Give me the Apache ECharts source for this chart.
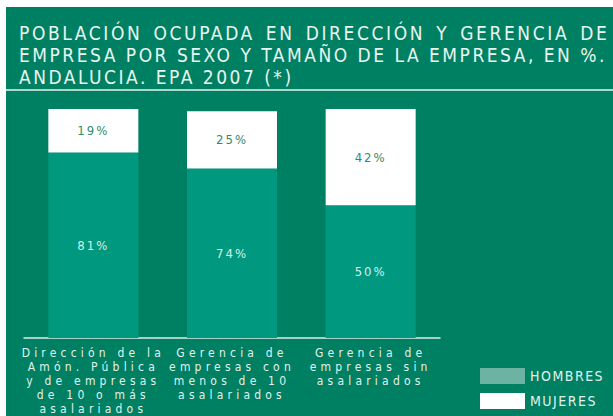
<!DOCTYPE html>
<html>
<head>
<meta charset="utf-8">
<script src="https://cdn.jsdelivr.net/npm/echarts@6/dist/echarts.min.js"></script>
<style>
    body { margin: 0; background: #fff; }
    #main { width: 613px; height: 416px; }
    /* espaciado de letras como en el original */
    text[style*="ttl"] { letter-spacing: 2.6px; word-spacing: 3px; }
    text[style*="sub"] { letter-spacing: 2.5px; }
    text[style*="cat"] { letter-spacing: 4.2px; }
    text[style*="val"] { letter-spacing: 2px; }
    text[style*="leg"] { letter-spacing: 1.5px; }
</style>
</head>
<body>
<div id="main"></div>
<script>
var titleLine = 'POBLACIÓN OCUPADA EN DIRECCIÓN Y GERENCIA DE';
var subLines = 'EMPRESA POR SEXO Y TAMAÑO DE LA EMPRESA, EN %.\nANDALUCIA. EPA 2007 (*)';
var categories = [
    'Dirección de la\nAmón. Pública\ny de empresas\nde 10 o más\nasalariados',
    'Gerencia de\nempresas con\nmenos de 10\nasalariados',
    'Gerencia de\nempresas sin\nasalariados'
];
// alturas tal como estan dibujadas (la tercera barra rotula 50% pero ocupa ~58%)
var hombres = [81, 74, 58];
var mujeres = [19, 25, 42];
var hombresLabels = ['81%', '74%', '50%'];
var mujeresLabels = ['19%', '25%', '42%'];

var font = "'DejaVu Sans Condensed', 'Liberation Sans Narrow', 'DejaVu Sans'";

var chart = echarts.init(document.getElementById('main'), null, { renderer: 'svg' });
chart.setOption({
    backgroundColor: '#ffffff',
    graphic: [
        {
            type: 'rect',
            z: -10,
            shape: { x: 6, y: 7, width: 607, height: 409 },
            style: { fill: '#008062' }
        },
        {
            type: 'line',
            z: -9,
            shape: { x1: 6, y1: 90, x2: 613, y2: 90 },
            style: { stroke: '#e6f3ee', lineWidth: 1.5 }
        }
    ],
    title: {
        text: titleLine,
        subtext: subLines,
        left: 14,
        top: 17,
        itemGap: 0,
        textStyle: {
            color: '#e8f5f0',
            fontFamily: font + ', ttl',
            fontSize: 19,
            fontWeight: 'normal',
            lineHeight: 22
        },
        subtextStyle: {
            color: '#e8f5f0',
            fontFamily: font + ', sub',
            fontSize: 19,
            lineHeight: 22
        }
    },
    legend: {
        orient: 'vertical',
        left: 480,
        top: 368,
        padding: 0,
        itemWidth: 45,
        itemHeight: 16,
        itemGap: 9,
        icon: 'rect',
        textStyle: {
            color: '#e0f2ec',
            fontFamily: font + ', leg',
            fontSize: 14
        },
        data: [
            { name: 'HOMBRES', itemStyle: { color: '#6db3a3' } },
            { name: 'MUJERES', itemStyle: { color: '#ffffff' } }
        ]
    },
    grid: {
        left: 24,
        right: 173,
        top: 109,
        bottom: 78
    },
    xAxis: {
        type: 'category',
        data: categories,
        axisLine: { lineStyle: { color: '#dbeee7', width: 1.5 } },
        axisTick: { inside: true, length: 6, lineStyle: { color: '#dbeee7' } },
        axisLabel: {
            interval: 0,
            color: '#e0f2ec',
            fontFamily: font + ', cat',
            fontSize: 12,
            lineHeight: 14,
            margin: 8
        }
    },
    yAxis: {
        type: 'value',
        min: 0,
        max: 100,
        show: false
    },
    series: [
        {
            name: 'HOMBRES',
            type: 'bar',
            stack: 'total',
            barWidth: 90,
            data: hombres,
            itemStyle: { color: '#00997f' },
            label: {
                show: true,
                position: 'inside',
                color: '#d4f0e7',
                fontFamily: font + ', val',
                fontSize: 13,
                formatter: function (p) { return hombresLabels[p.dataIndex]; }
            }
        },
        {
            name: 'MUJERES',
            type: 'bar',
            stack: 'total',
            barWidth: 90,
            data: mujeres,
            itemStyle: { color: '#ffffff' },
            label: {
                show: true,
                position: 'inside',
                color: '#2a8d70',
                fontFamily: font + ', val',
                fontSize: 13,
                formatter: function (p) { return mujeresLabels[p.dataIndex]; }
            }
        }
    ]
});
</script>
</body>
</html>
